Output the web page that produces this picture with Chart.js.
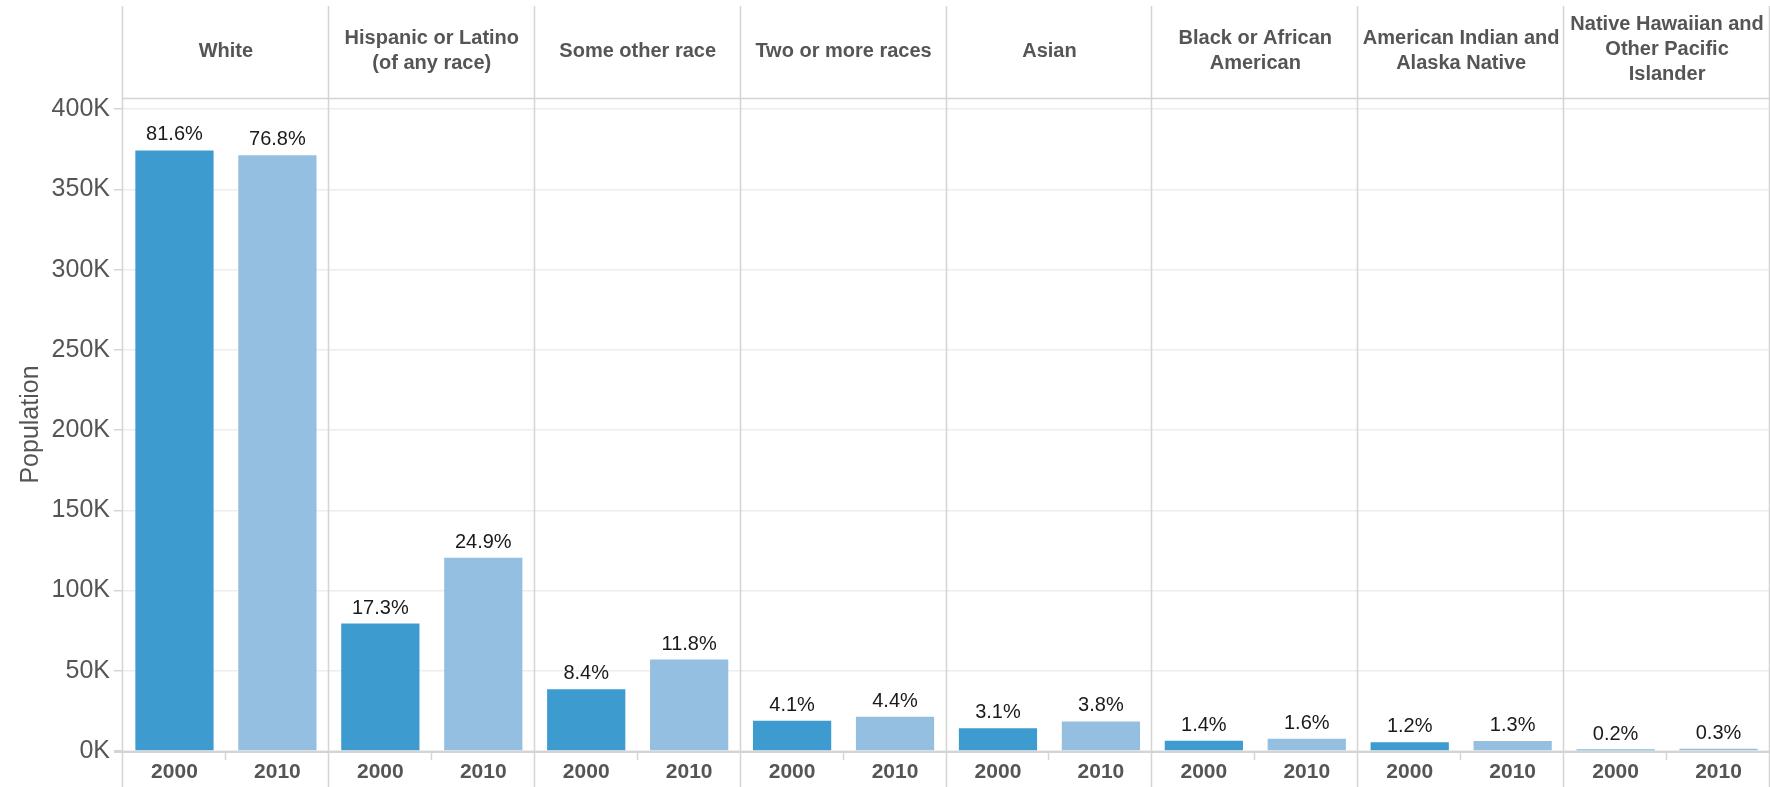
<!DOCTYPE html>
<html>
<head>
<meta charset="utf-8">
<script src="https://cdn.jsdelivr.net/npm/chart.js@4.4.1/dist/chart.umd.min.js"></script>
<style>
  html, body { margin: 0; padding: 0; background: #ffffff; }
  #wrap { width: 1770px; height: 787px; position: relative; }
</style>
</head>
<body>
<div id="wrap"><canvas id="c"></canvas></div>
<script>
// ---- Data ----
const categories = [
  ['White'],
  ['Hispanic or Latino', '(of any race)'],
  ['Some other race'],
  ['Two or more races'],
  ['Asian'],
  ['Black or African', 'American'],
  ['American Indian and', 'Alaska Native'],
  ['Native Hawaiian and', 'Other Pacific', 'Islander']
];
const years = ['2000', '2010'];
const pop2000 = [374300, 79400, 38500, 18800, 14200, 6400, 5500, 900];
const pop2010 = [371300, 120400, 57000, 21300, 18400, 7700, 6300, 1450];
const pct2000 = [81.6, 17.3, 8.4, 4.1, 3.1, 1.4, 1.2, 0.2];
const pct2010 = [76.8, 24.9, 11.8, 4.4, 3.8, 1.6, 1.3, 0.3];
const yTicks = [0, 50000, 100000, 150000, 200000, 250000, 300000, 350000, 400000];

const FONT = '"Liberation Sans", Arial, Helvetica, sans-serif';
const LINE = '#d4d4d4';
const pctSets = [pct2000, pct2010];

const decor = {
  id: 'decor',
  beforeDatasetsDraw(chart) {
    const ctx = chart.ctx;
    const a = chart.chartArea;
    const n = categories.length;
    const w = (a.right - a.left) / n;
    ctx.save();
    ctx.strokeStyle = LINE;
    ctx.lineWidth = 1.5;
    ctx.beginPath();
    ctx.moveTo(a.left, a.top + 0.5);
    ctx.lineTo(a.right, a.top + 0.5);
    ctx.stroke();
    for (let i = 0; i <= n; i++) {
      const x = Math.round(a.left + i * w) - 0.5;
      ctx.beginPath();
      ctx.moveTo(x, 6);
      ctx.lineTo(x, chart.height);
      ctx.stroke();
    }
    ctx.restore();
  },
  afterDatasetsDraw(chart) {
    const ctx = chart.ctx;
    const a = chart.chartArea;
    const n = categories.length;
    const w = (a.right - a.left) / n;
    ctx.save();
    ctx.strokeStyle = LINE;
    ctx.lineWidth = 2;
    ctx.beginPath();
    ctx.moveTo(114, a.bottom + 1);
    ctx.lineTo(a.right, a.bottom + 1);
    ctx.stroke();
    ctx.lineWidth = 1.5;
    for (let i = 0; i < n; i++) {
      const x = Math.round(a.left + (i + 0.5) * w) - 0.5;
      ctx.beginPath();
      ctx.moveTo(x, a.bottom + 2);
      ctx.lineTo(x, a.bottom + 9);
      ctx.stroke();
    }
    ctx.fillStyle = '#555555';
    ctx.font = 'bold 20px ' + FONT;
    ctx.textAlign = 'center';
    ctx.textBaseline = 'middle';
    const lh = 24.8;
    for (let i = 0; i < n; i++) {
      const lines = categories[i];
      const cx = a.left + (i + 0.5) * w;
      const center = lines.length === 3 ? 49.5 : 51;
      const y0 = center - (lines.length - 1) * lh / 2;
      lines.forEach((t, k) => ctx.fillText(t, cx, y0 + k * lh));
    }
    chart.data.datasets.forEach((ds, di) => {
      const meta = chart.getDatasetMeta(di);
      meta.data.forEach((bar, i) => {
        ctx.fillStyle = '#1a1a1a';
        ctx.font = '20px ' + FONT;
        ctx.textBaseline = 'alphabetic';
        ctx.fillText(pctSets[di][i].toFixed(1) + '%', bar.x, bar.y - 10);
        ctx.fillStyle = '#555555';
        ctx.font = 'bold 21px ' + FONT;
        ctx.textBaseline = 'middle';
        ctx.fillText(years[di], bar.x, 772);
      });
    });
    ctx.restore();
  }
};

new Chart(document.getElementById('c'), {
  type: 'bar',
  data: {
    labels: categories.map(c => c.join(' ')),
    datasets: [
      { label: years[0], data: pop2000, backgroundColor: '#3d9bcf', barPercentage: 0.76, categoryPercentage: 1.0 },
      { label: years[1], data: pop2010, backgroundColor: '#95bfe1', barPercentage: 0.76, categoryPercentage: 1.0 }
    ]
  },
  options: {
    responsive: true,
    maintainAspectRatio: false,
    animation: false,
    layout: { padding: { top: 98, bottom: 36, left: 0, right: 0 } },
    plugins: { legend: { display: false }, tooltip: { enabled: false } },
    scales: {
      x: { display: false, offset: true },
      y: {
        min: 0,
        max: 407000,
        afterFit(scale) { scale.width = 123; },
        afterBuildTicks(scale) { scale.ticks = yTicks.map(v => ({ value: v })); },
        ticks: {
          callback: v => (v / 1000) + 'K',
          color: '#555555',
          font: { family: FONT, size: 25 },
          padding: 4
        },
        grid: { color: '#ededed', lineWidth: 1.5, tickLength: 9, tickColor: LINE, drawTicks: true },
        border: { display: false },
        title: {
          display: true,
          text: 'Population',
          color: '#555555',
          font: { family: FONT, size: 25 },
          padding: { top: 16, bottom: 0 }
        }
      }
    }
  },
  plugins: [decor]
});
</script>
</body>
</html>
